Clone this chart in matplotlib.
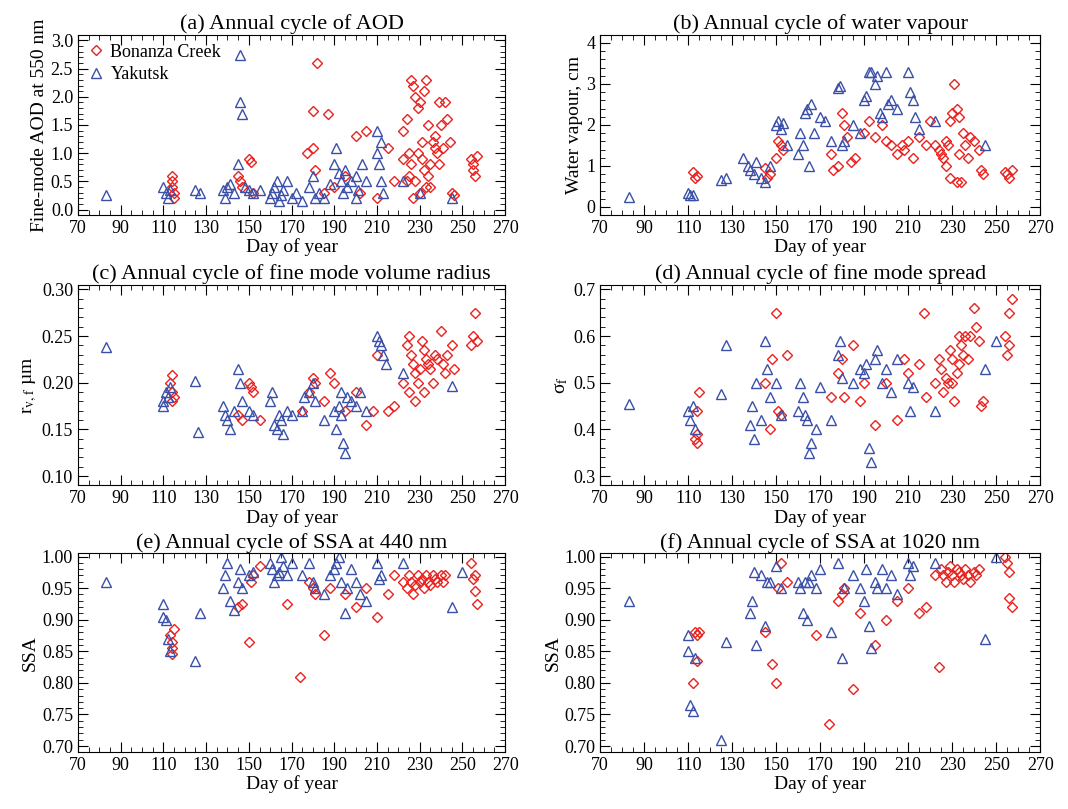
import matplotlib
matplotlib.use("Agg")
import matplotlib.pyplot as plt
from matplotlib.ticker import MultipleLocator, FixedLocator, FormatStrFormatter

plt.rcParams['font.family'] = ['Liberation Serif', 'DejaVu Serif']
plt.rcParams['mathtext.fontset'] = 'stix'

# ---- data (day, value) ----
a_yak = [(83,0.25),(110,0.4),(111,0.3),(112,0.2),(113,0.35),(125,0.35),(127,0.3),(138,0.35),(139,0.2),(140,0.4),(141,0.45),(143,0.3),(145,0.8),(146,2.75),(146,1.9),(147,1.7),(148,0.4),(150,0.35),(152,0.3),(155,0.35),(160,0.2),(161,0.3),(162,0.4),(163,0.5),(164,0.15),(165,0.25),(166,0.35),(168,0.5),(170,0.2),(172,0.3),(175,0.15),(178,0.4),(180,0.6),(181,0.2),(183,0.3),(185,0.2),(188,0.45),(190,0.8),(191,1.1),(192,0.65),(193,0.5),(194,0.3),(195,0.7),(196,0.4),(198,0.5),(200,0.6),(201,0.35),(205,0.5),(210,1.4),(210,1.0),(211,0.8),(212,1.2),(212,0.5),(213,0.3),(222,0.5),(230,0.3),(245,0.2),(200,0.2),(203,0.8)]
a_bon = [(114,0.6),(114,0.5),(114,0.4),(115,0.3),(115,0.2),(145,0.6),(146,0.5),(147,0.4),(150,0.9),(151,0.85),(152,0.3),(177,1.0),(180,1.1),(181,0.7),(182,2.6),(180,1.75),(185,0.3),(187,1.7),(190,0.4),(195,0.6),(200,1.3),(202,0.3),(205,1.4),(210,0.2),(215,1.1),(218,0.5),(222,1.4),(224,1.6),(225,1.0),(226,2.3),(227,2.2),(228,2.0),(229,1.8),(230,1.9),(231,0.9),(232,2.1),(233,2.3),(234,1.5),(235,0.4),(225,0.6),(226,0.8),(228,0.5),(230,0.3),(232,0.7),(234,0.6),(236,1.2),(237,1.3),(238,1.0),(239,0.8),(240,1.5),(241,1.1),(242,1.9),(243,1.6),(244,1.2),(245,0.3),(246,0.25),(254,0.9),(255,0.8),(255,0.7),(256,0.6),(257,0.95),(222,0.9),(224,0.5),(227,0.2),(229,1.0),(231,1.2),(233,0.4),(235,0.8),(237,1.1),(239,1.9)]
b_yak = [(83,0.25),(110,0.35),(111,0.3),(112,0.3),(125,0.65),(127,0.7),(135,1.2),(137,1.0),(138,0.9),(140,0.8),(141,1.1),(143,0.7),(145,0.6),(147,1.0),(150,2.0),(151,2.1),(152,1.9),(153,2.05),(155,1.5),(160,1.3),(161,1.8),(162,1.5),(163,2.3),(164,2.4),(165,1.0),(166,2.5),(167,1.8),(170,2.2),(172,2.1),(175,1.6),(178,2.9),(179,2.95),(180,1.5),(181,1.6),(185,2.0),(188,1.8),(190,2.6),(191,2.7),(192,3.3),(193,3.3),(195,3.0),(196,3.2),(198,2.2),(200,3.3),(201,2.5),(202,2.6),(205,2.4),(210,3.3),(211,2.8),(212,2.6),(213,2.2),(215,1.9),(222,2.1),(245,1.5),(197,2.3)]
b_bon = [(112,0.85),(113,0.7),(114,0.75),(145,0.95),(146,0.7),(147,0.8),(150,1.2),(151,1.6),(152,1.5),(153,1.4),(175,1.3),(176,0.9),(178,1.0),(180,2.3),(181,2.0),(182,1.7),(184,1.1),(186,1.2),(190,1.8),(192,2.1),(195,1.7),(198,2.0),(200,1.6),(202,1.5),(205,1.3),(207,1.5),(208,1.4),(210,1.6),(212,1.2),(215,1.7),(218,1.5),(220,2.1),(222,1.5),(224,1.4),(225,1.3),(226,1.2),(227,1.0),(228,1.5),(229,2.1),(230,2.3),(231,3.0),(232,2.4),(233,2.2),(234,0.6),(235,1.8),(236,1.5),(237,1.2),(238,1.7),(240,1.6),(242,1.4),(243,0.9),(244,0.8),(254,0.85),(255,0.8),(256,0.7),(257,0.9),(227,1.6),(229,0.7),(232,0.6),(233,1.3)]
c_yak = [(83,0.238),(110,0.18),(110,0.175),(111,0.19),(112,0.185),(113,0.195),(125,0.202),(126,0.147),(138,0.175),(139,0.165),(140,0.16),(141,0.15),(143,0.17),(145,0.215),(146,0.2),(147,0.18),(150,0.17),(152,0.165),(160,0.18),(161,0.19),(162,0.155),(163,0.15),(164,0.165),(165,0.16),(166,0.145),(168,0.17),(170,0.165),(175,0.17),(176,0.185),(178,0.19),(180,0.2),(181,0.18),(185,0.16),(190,0.17),(191,0.15),(192,0.175),(193,0.165),(194,0.135),(195,0.125),(196,0.185),(198,0.18),(200,0.175),(202,0.19),(205,0.17),(210,0.25),(211,0.245),(212,0.24),(213,0.23),(214,0.22),(222,0.21),(245,0.197),(193,0.19)]
c_bon = [(113,0.2),(114,0.19),(115,0.185),(114,0.18),(114,0.208),(145,0.165),(147,0.16),(150,0.2),(151,0.195),(152,0.19),(155,0.16),(175,0.17),(178,0.19),(180,0.205),(181,0.2),(185,0.18),(188,0.21),(190,0.2),(195,0.17),(200,0.19),(205,0.155),(208,0.17),(210,0.23),(215,0.17),(218,0.175),(222,0.2),(224,0.24),(225,0.25),(226,0.23),(227,0.22),(228,0.21),(229,0.2),(230,0.215),(231,0.245),(232,0.235),(233,0.225),(234,0.22),(235,0.215),(236,0.2),(237,0.23),(238,0.225),(240,0.255),(241,0.22),(242,0.21),(243,0.23),(245,0.24),(246,0.215),(254,0.24),(255,0.25),(256,0.275),(257,0.245),(225,0.19),(228,0.18),(232,0.19)]
d_yak = [(83,0.455),(110,0.44),(111,0.42),(112,0.45),(113,0.4),(125,0.475),(127,0.58),(138,0.41),(139,0.45),(140,0.38),(141,0.5),(143,0.42),(145,0.59),(146,0.53),(147,0.47),(150,0.5),(152,0.43),(160,0.44),(161,0.5),(162,0.47),(163,0.43),(164,0.42),(165,0.35),(166,0.37),(168,0.4),(170,0.49),(175,0.42),(178,0.56),(179,0.59),(180,0.51),(185,0.5),(188,0.53),(190,0.52),(191,0.54),(192,0.36),(193,0.33),(195,0.55),(196,0.57),(198,0.5),(200,0.53),(202,0.48),(205,0.55),(210,0.5),(211,0.44),(212,0.49),(222,0.44),(245,0.53),(250,0.59)]
d_bon = [(113,0.38),(114,0.37),(114,0.44),(115,0.48),(114,0.39),(145,0.5),(147,0.4),(148,0.55),(150,0.65),(151,0.44),(152,0.43),(155,0.56),(175,0.47),(178,0.52),(180,0.55),(181,0.47),(185,0.58),(188,0.46),(190,0.5),(195,0.41),(200,0.5),(205,0.42),(208,0.55),(210,0.52),(215,0.54),(217,0.65),(218,0.47),(222,0.5),(224,0.55),(225,0.53),(226,0.48),(227,0.51),(228,0.5),(229,0.57),(230,0.55),(231,0.46),(232,0.52),(233,0.54),(234,0.58),(235,0.56),(236,0.6),(237,0.55),(238,0.6),(240,0.66),(241,0.62),(242,0.59),(243,0.45),(244,0.46),(254,0.6),(255,0.56),(256,0.65),(257,0.68),(256,0.58),(230,0.5),(233,0.6)]
e_yak = [(83,0.96),(110,0.925),(110,0.905),(111,0.9),(112,0.87),(113,0.85),(125,0.835),(127,0.91),(138,0.95),(139,0.97),(140,0.99),(141,0.93),(143,0.915),(145,0.96),(146,0.98),(147,0.95),(150,0.97),(152,0.975),(160,0.99),(161,0.98),(162,0.96),(163,0.97),(164,0.975),(165,1.0),(166,0.985),(168,0.97),(170,0.99),(175,0.97),(178,0.99),(180,0.96),(181,0.95),(185,0.94),(188,0.97),(190,0.98),(191,0.99),(192,1.0),(193,0.96),(195,0.91),(196,0.95),(198,0.98),(200,0.96),(202,0.94),(205,0.93),(210,0.99),(211,0.965),(212,0.97),(222,0.99),(245,0.92),(250,0.975)]
e_bon = [(113,0.875),(114,0.865),(114,0.845),(115,0.885),(114,0.855),(145,0.92),(147,0.925),(150,0.865),(151,0.96),(152,0.97),(155,0.985),(168,0.925),(174,0.81),(178,0.96),(180,0.95),(181,0.94),(185,0.875),(188,0.95),(195,0.94),(200,0.92),(205,0.95),(210,0.905),(215,0.94),(218,0.97),(222,0.96),(224,0.95),(225,0.97),(226,0.96),(227,0.94),(228,0.955),(229,0.97),(230,0.96),(231,0.965),(232,0.95),(233,0.97),(234,0.96),(235,0.955),(236,0.97),(237,0.965),(238,0.96),(240,0.97),(241,0.96),(242,0.97),(254,0.99),(255,0.965),(256,0.945),(257,0.925),(256,0.97)]
f_yak = [(83,0.93),(110,0.875),(110,0.85),(111,0.765),(112,0.755),(113,0.84),(125,0.71),(127,0.865),(138,0.91),(139,0.93),(140,0.975),(141,0.86),(143,0.97),(145,0.89),(146,0.96),(147,0.96),(150,0.985),(152,0.95),(160,0.96),(161,0.95),(162,0.91),(163,0.96),(164,0.9),(165,0.96),(166,0.97),(168,0.95),(170,0.98),(175,0.88),(178,0.99),(180,0.84),(181,0.95),(185,0.97),(188,0.95),(190,0.93),(191,0.98),(192,0.89),(193,0.855),(195,0.96),(196,0.95),(198,0.98),(200,0.95),(202,0.97),(205,0.94),(210,0.99),(211,0.97),(212,0.985),(222,0.99),(245,0.87),(250,1.0)]
f_bon = [(113,0.88),(114,0.875),(114,0.835),(112,0.8),(115,0.88),(145,0.88),(148,0.83),(150,0.8),(151,0.95),(152,0.99),(155,0.96),(168,0.875),(174,0.735),(178,0.93),(180,0.94),(181,0.95),(185,0.79),(188,0.91),(195,0.86),(200,0.9),(205,0.93),(210,0.95),(215,0.91),(218,0.92),(222,0.97),(224,0.825),(225,0.98),(226,0.97),(227,0.96),(228,0.975),(229,0.985),(230,0.97),(231,0.96),(232,0.98),(233,0.975),(234,0.97),(235,0.965),(236,0.98),(237,0.97),(238,0.96),(240,0.975),(241,0.97),(242,0.98),(254,1.0),(255,0.99),(256,0.935),(257,0.92),(256,0.975)]

xticks = [70, 90, 110, 130, 150, 170, 190, 210, 230, 250, 270]
titles = ["(a) Annual cycle of AOD", "(b) Annual cycle of water vapour",
          "(c) Annual cycle of fine mode volume radius", "(d) Annual cycle of fine mode spread",
          "(e) Annual cycle of SSA at 440 nm", "(f) Annual cycle of SSA at 1020 nm"]
ylabels = ["Fine-mode AOD at 550 nm", "Water vapour, cm", r"r$_{\rm v,f}$ µm", r"σ$_{\rm f}$", "SSA", "SSA"]
ylims = [(-0.1, 3.1), (-0.2, 4.2), (0.09, 0.305), (0.28, 0.71), (0.69, 1.005), (0.69, 1.005)]
ysteps = [0.5, 1, 0.05, 0.1, 0.05, 0.05]
yfmt = ["%.1f", "%d", "%.2f", "%.1f", "%.2f", "%.2f"]
yminor = [0.1, 0.2, 0.01, 0.02, 0.01, 0.01]
data = [(a_bon, a_yak), (b_bon, b_yak), (c_bon, c_yak), (d_bon, d_yak), (e_bon, e_yak), (f_bon, f_yak)]

RED = '#e8221e'
BLUE = '#3a4fa8'
fig = plt.figure(figsize=(10.68, 8.09), dpi=100)
lefts = [0.073, 0.562]
widths = [0.40, 0.412]
bottoms = [0.734, 0.40, 0.07]
heights = [0.223, 0.248, 0.246]
for i in range(6):
    r, c = divmod(i, 2)
    ax = fig.add_axes([lefts[c], bottoms[r], widths[c], heights[r]])
    bon, yak = data[i]
    ax.plot([p[0] for p in bon], [p[1] for p in bon], 'D', ms=5, mfc='none', mec=RED, mew=1, ls='none', label='Bonanza Creek')
    ax.plot([p[0] for p in yak], [p[1] for p in yak], '^', ms=6.5, mfc='none', mec=BLUE, mew=1, ls='none', label='Yakutsk')
    ax.set_xlim(70, 270)
    ax.set_ylim(*ylims[i])
    ax.xaxis.set_major_locator(FixedLocator(xticks))
    ax.xaxis.set_minor_locator(MultipleLocator(5))
    ax.yaxis.set_major_locator(MultipleLocator(ysteps[i]))
    ax.yaxis.set_minor_locator(MultipleLocator(yminor[i]))
    ax.yaxis.set_major_formatter(FormatStrFormatter(yfmt[i]))
    ax.tick_params(which='both', direction='in', top=True, right=True, labelsize=13)
    ax.tick_params(which='major', length=7)
    ax.tick_params(which='minor', length=3.5)
    ax.set_title(titles[i], fontsize=16, pad=4)
    ax.set_xlabel("Day of year", fontsize=14, labelpad=1)
    ax.set_ylabel(ylabels[i], fontsize=14, labelpad=2)
    if i == 0:
        ax.legend(loc='upper left', frameon=False, fontsize=13, handletextpad=0.3,
                  borderaxespad=0.1, labelspacing=0.3, handlelength=1.0)
fig.savefig("out.png", dpi=100)
